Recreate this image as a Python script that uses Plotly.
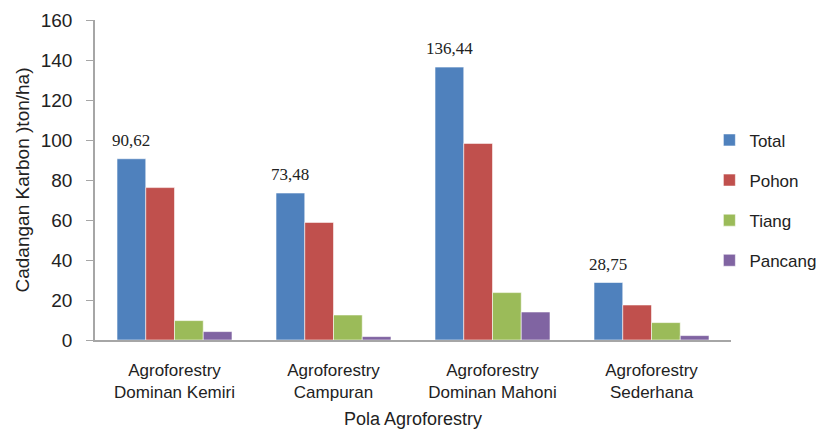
import plotly.graph_objects as go

categories = ["Agroforestry<br>Dominan Kemiri", "Agroforestry<br>Campuran",
              "Agroforestry<br>Dominan Mahoni", "Agroforestry<br>Sederhana"]
total = [90.62, 73.48, 136.44, 28.75]
pohon = [76.2, 58.8, 98.3, 17.5]
tiang = [9.7, 12.5, 23.7, 8.7]
pancang = [4.2, 1.7, 14.0, 2.2]
total_labels = ["90,62", "73,48", "136,44", "28,75"]
y_ticks = [0, 20, 40, 60, 80, 100, 120, 140, 160]

series = [("Total", total, "#4F81BD"), ("Pohon", pohon, "#C0504D"),
          ("Tiang", tiang, "#9BBB59"), ("Pancang", pancang, "#8064A2")]

fig = go.Figure()
for name, vals, col in series:
    fig.add_trace(go.Bar(x=categories, y=vals, name=name, legendgroup=name,
                         marker=dict(color=col, line=dict(color="rgba(255,255,255,0.55)", width=1))))

ml, mr, mt, mb = 87, 107, 12, 99
plot_w = 830 - ml - mr
bargap = 0.277
cat_w = plot_w / len(categories)
bar_w = cat_w * (1 - bargap) / 4
for c, v, t in zip(categories, total, total_labels):
    fig.add_annotation(x=c, y=v, text=t, showarrow=False, xref="x", yref="y",
                       xshift=-1.5 * bar_w, yanchor="bottom", yshift=7,
                       font=dict(family="Liberation Serif", size=17, color="#222"))

fig.update_layout(
    width=830, height=431,
    margin=dict(l=ml, r=mr, t=mt, b=mb, autoexpand=False),
    plot_bgcolor="white", paper_bgcolor="white",
    barmode="group", bargap=bargap, bargroupgap=0,
    font=dict(family="Liberation Sans", color="#222"),
    showlegend=True,
    legend=dict(x=0.966, y=0.68, xanchor="left", yanchor="top",
                font=dict(size=17), tracegroupgap=15, itemwidth=30,
                traceorder="grouped"),
    xaxis=dict(showline=True, linecolor="#A6A6A6", linewidth=1.5, ticks="",
               tickfont=dict(size=17), showgrid=False, ticklabelstandoff=14,
               title=dict(text="Pola Agroforestry", font=dict(size=18), standoff=11)),
    yaxis=dict(range=[0, 160], tickvals=y_ticks, showline=True, linecolor="#A6A6A6",
               linewidth=1.5, ticks="outside", ticklen=7, tickcolor="#A6A6A6",
               tickfont=dict(size=19), showgrid=False, zeroline=False,
               ticklabelstandoff=10,
               title=dict(text="Cadangan Karbon )ton/ha)", font=dict(size=19), standoff=6)),
)
fig.write_html("out.html")
